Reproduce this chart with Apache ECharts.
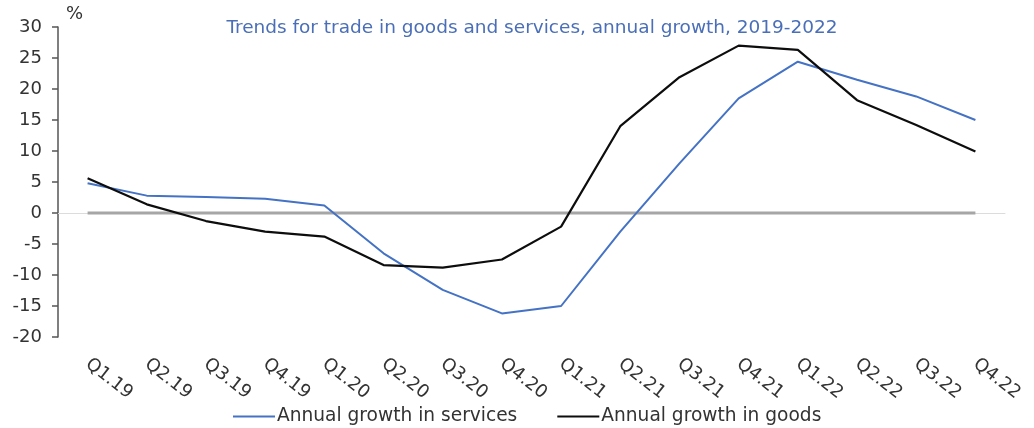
<!DOCTYPE html>
<html>
<head>
<meta charset="utf-8">
<style>
  html, body { margin: 0; padding: 0; background: #fff; }
  #chart { width: 1034px; height: 428px; }
</style>
<script src="https://cdn.jsdelivr.net/npm/echarts@6/dist/echarts.min.js"></script>
</head>
<body>
<div id="chart"></div>
<script>
// Quarterly periods, 2019-2022
const quarters = ['Q1.19', 'Q2.19', 'Q3.19', 'Q4.19', 'Q1.20', 'Q2.20', 'Q3.20', 'Q4.20',
                  'Q1.21', 'Q2.21', 'Q3.21', 'Q4.21', 'Q1.22', 'Q2.22', 'Q3.22', 'Q4.22'];

// Annual growth, %
const servicesGrowth = [4.8, 2.8, 2.6, 2.3, 1.2, -6.5, -12.4, -16.2,
                        -15.0, -3.0, 8.0, 18.5, 24.4, 21.5, 18.8, 15.0];
const goodsGrowth = [5.6, 1.4, -1.3, -3.0, -3.8, -8.4, -8.8, -7.5,
                     -2.2, 14.0, 21.9, 27.0, 26.3, 18.2, 14.2, 9.9];
const zeroLine = quarters.map(() => 0);

const titleText = 'Trends for trade in goods and services, annual growth, 2019-2022';
const servicesName = 'Annual growth in services';
const goodsName = 'Annual growth in goods';

const FONT = '"DejaVu Sans", "Liberation Sans", sans-serif';

const chart = echarts.init(document.getElementById('chart'), null, { renderer: 'canvas' });

chart.setOption({
  animation: false,
  backgroundColor: '#ffffff',
  textStyle: { fontFamily: FONT },
  title: {
    text: titleText,
    left: 527,
    textAlign: 'center',
    top: 14,
    textStyle: { fontFamily: FONT, fontSize: 18.5, fontWeight: 'normal', color: '#4a6fb8' }
  },
  legend: {
    data: [servicesName, goodsName],
    top: 402,
    left: 228,
    itemWidth: 42,
    itemHeight: 2,
    itemGap: 40,
    icon: 'rect',
    textStyle: { fontFamily: FONT, fontSize: 18.6, color: '#333333', padding: [0, 0, 0, -3] }
  },
  grid: { left: 58, right: 29, top: 27, bottom: 91, containLabel: false },
  xAxis: [
    {
      type: 'category',
      data: quarters,
      boundaryGap: true,
      axisLine: { show: false, onZero: false },
      axisTick: { show: false },
      axisLabel: {
        rotate: -38,
        margin: 25,
        fontFamily: FONT,
        fontSize: 18,
        color: '#333333'
      }
    },
    {
      type: 'category',
      data: quarters,
      position: 'bottom',
      boundaryGap: true,
      axisLine: { show: true, onZero: true, lineStyle: { color: '#dcdcdc', width: 1 } },
      axisTick: { show: false },
      axisLabel: { show: false }
    }
  ],
  yAxis: {
    type: 'value',
    min: -20,
    max: 30,
    interval: 5,
    name: '%',
    nameLocation: 'end',
    nameGap: 4,
    nameTextStyle: { fontFamily: FONT, fontSize: 18, color: '#333333', align: 'left', padding: [0, 0, 0, 8] },
    axisLine: { show: true, lineStyle: { color: '#555555', width: 1.5 } },
    axisTick: { show: true, inside: false, length: 6, lineStyle: { color: '#555555', width: 1.5 } },
    axisLabel: { fontFamily: FONT, fontSize: 18, color: '#333333', margin: 16 },
    splitLine: { show: false }
  },
  series: [
    {
      name: 'zero',
      type: 'line',
      data: zeroLine,
      symbol: 'none',
      silent: true,
      lineStyle: { color: '#a6a6a6', width: 3 },
      z: 1
    },
    {
      name: servicesName,
      type: 'line',
      data: servicesGrowth,
      symbol: 'none',
      lineStyle: { color: '#4472c4', width: 2 },
      itemStyle: { color: '#4472c4' },
      z: 2
    },
    {
      name: goodsName,
      type: 'line',
      data: goodsGrowth,
      symbol: 'none',
      lineStyle: { color: '#0d0d0d', width: 2.2 },
      itemStyle: { color: '#0d0d0d' },
      z: 3
    }
  ]
});
</script>
</body>
</html>
